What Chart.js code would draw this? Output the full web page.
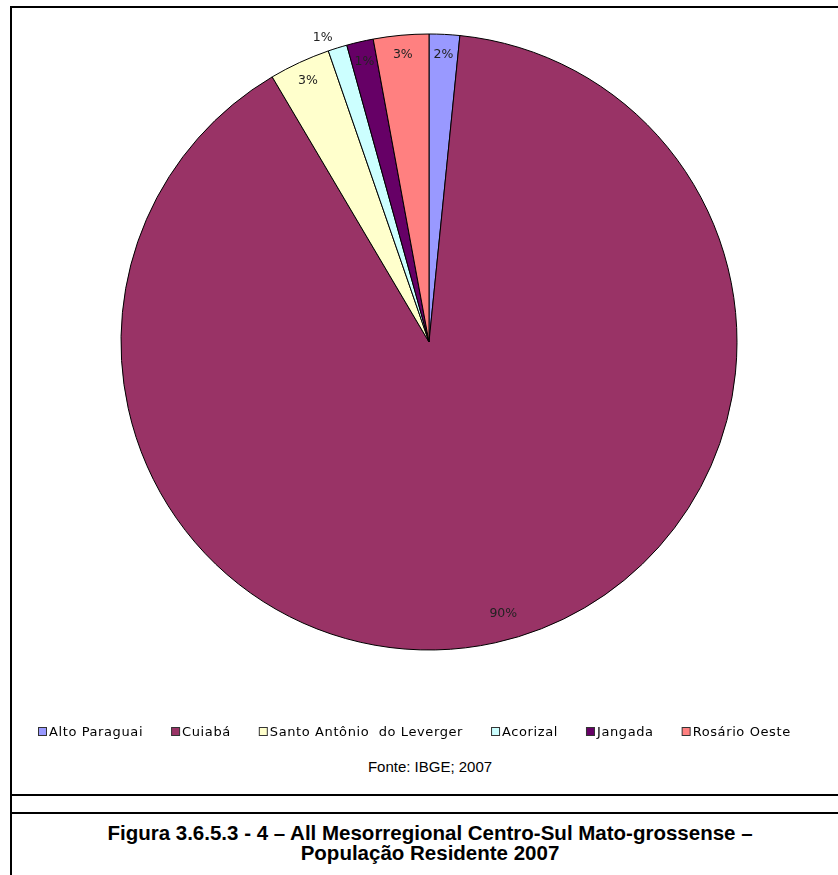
<!DOCTYPE html>
<html lang="pt-BR">
<head>
<meta charset="utf-8">
<title>População Residente 2007</title>
<script src="https://cdn.jsdelivr.net/npm/chart.js@4/dist/chart.umd.min.js"></script>
<style>
  html, body { margin: 0; padding: 0; background: #fff; overflow: hidden; }
  body { width: 838px; height: 875px; position: relative; }
  .frame { position: absolute; left: 10px; top: 6px; width: 900px; height: 900px;
           border-top: 2px solid #000; border-left: 2px solid #000; }
  .rule { position: absolute; left: 10px; width: 900px; height: 2px; background: #000; }
  #chart { position: absolute; left: 0; top: 0; }
  .fonte { position: absolute; left: 0; width: 860px; top: 758px; text-align: center;
           font-family: "Liberation Sans", Arial, sans-serif; font-size: 15px; color: #000; }
  .titulo { position: absolute; left: 0; width: 860px; top: 823px; text-align: center;
            font-family: "Liberation Sans", Arial, sans-serif; font-size: 20.5px; font-weight: bold;
            line-height: 20px; color: #000; }
</style>
</head>
<body>
<div class="frame"></div>
<div class="rule" style="top:794px"></div>
<div class="rule" style="top:812px"></div>
<canvas id="chart" width="838" height="750"></canvas>
<div class="fonte">Fonte: IBGE; 2007</div>
<div class="titulo">Figura 3.6.5.3 - 4 – All Mesorregional Centro-Sul Mato-grossense –<br>População Residente 2007</div>
<script>
// Municípios da mesorregião e participação (%) na população residente
const municipios = ['Alto Paraguai', 'Cuiabá', 'Santo Antônio  do Leverger', 'Acorizal', 'Jangada', 'Rosário Oeste'];
const participacao = [1.6, 89.9, 3.2, 1.0, 1.4, 2.9];
const cores = ['#9999FF', '#993366', '#FFFFCC', '#CCFFFF', '#660066', '#FF8080'];

// Percent labels placed along each slice's bisector
const rotulos = {
  id: 'rotulos',
  afterDatasetsDraw(chart, args, opts) {
    const ctx = chart.ctx;
    const meta = chart.getDatasetMeta(0);
    const total = participacao.reduce((a, b) => a + b, 0);
    ctx.save();
    ctx.font = '12.5px "DejaVu Sans", Verdana, sans-serif';
    ctx.fillStyle = '#222';
    ctx.textAlign = 'center';
    ctx.textBaseline = 'middle';
    meta.data.forEach((arc, i) => {
      const { x, y, startAngle, endAngle, outerRadius } = arc.getProps(['x', 'y', 'startAngle', 'endAngle', 'outerRadius'], true);
      const mid = (startAngle + endAngle) / 2 + (opts.shift[i] || 0);
      const r = outerRadius * opts.radial[i];
      const pct = Math.round(participacao[i] / total * 100) + '%';
      ctx.fillText(pct, x + Math.cos(mid) * r, y + Math.sin(mid) * r);
    });
    ctx.restore();
  }
};

// Legend row under the pie
const legenda = {
  id: 'legenda',
  afterDraw(chart, args, opts) {
    const ctx = chart.ctx;
    ctx.save();
    ctx.font = '13px "DejaVu Sans", Verdana, sans-serif';
    ctx.letterSpacing = opts.spacing + 'px';
    ctx.textBaseline = 'middle';
    ctx.textAlign = 'left';
    let x = opts.x;
    const y = opts.y;
    municipios.forEach((nome, i) => {
      ctx.fillStyle = cores[i];
      ctx.fillRect(x + 0.5, y - 4.5, 8, 8);
      ctx.strokeStyle = '#333';
      ctx.lineWidth = 1;
      ctx.strokeRect(x + 0.5, y - 4.5, 8, 8);
      ctx.fillStyle = '#000';
      ctx.fillText(nome, x + 11, y + 0.5);
      x += 11 + ctx.measureText(nome).width + opts.gap;
    });
    ctx.restore();
  }
};

new Chart(document.getElementById('chart'), {
  type: 'pie',
  data: {
    labels: municipios,
    datasets: [{
      data: participacao,
      backgroundColor: cores,
      borderColor: '#000',
      borderWidth: 1
    }]
  },
  options: {
    responsive: false,
    animation: false,
    layout: { padding: { left: 120.5, right: 100.5, top: 33.5, bottom: 99.5 } },
    plugins: {
      legend: { display: false },
      tooltip: { enabled: false },
      rotulos: {
        radial: [0.935, 0.915, 0.935, 1.045, 0.935, 0.935],
        shift: [0, -0.05, 0, -0.035, 0, 0]
      },
      legenda: { x: 38, y: 732, gap: 28, spacing: 0.6 }
    }
  },
  plugins: [rotulos, legenda]
});
</script>
</body>
</html>
